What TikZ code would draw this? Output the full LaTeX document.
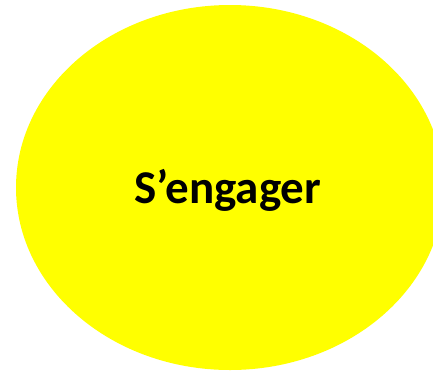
\documentclass[tikz,border=0pt]{standalone}
\usepackage{fontspec}
\setmainfont{Carlito}
\definecolor{sun}{RGB}{255,255,0}
\begin{document}
\begin{tikzpicture}[x=1pt,y=-1pt]
\tikzset{blob/.style={fill=sun,draw=none}, lbl/.style={font=\bfseries\fontsize{47}{51}\selectfont,text=black}}
\useasboundingbox (0,0) rectangle (433,373);
\begin{scope}
\clip (0,0) rectangle (433,373);
\fill[blob] (230,187.5) ellipse [x radius=214, y radius=182.5];
\end{scope}
\node[lbl,anchor=base] (t) at (228,203.5) {S’engager};
\end{tikzpicture}
\end{document}
